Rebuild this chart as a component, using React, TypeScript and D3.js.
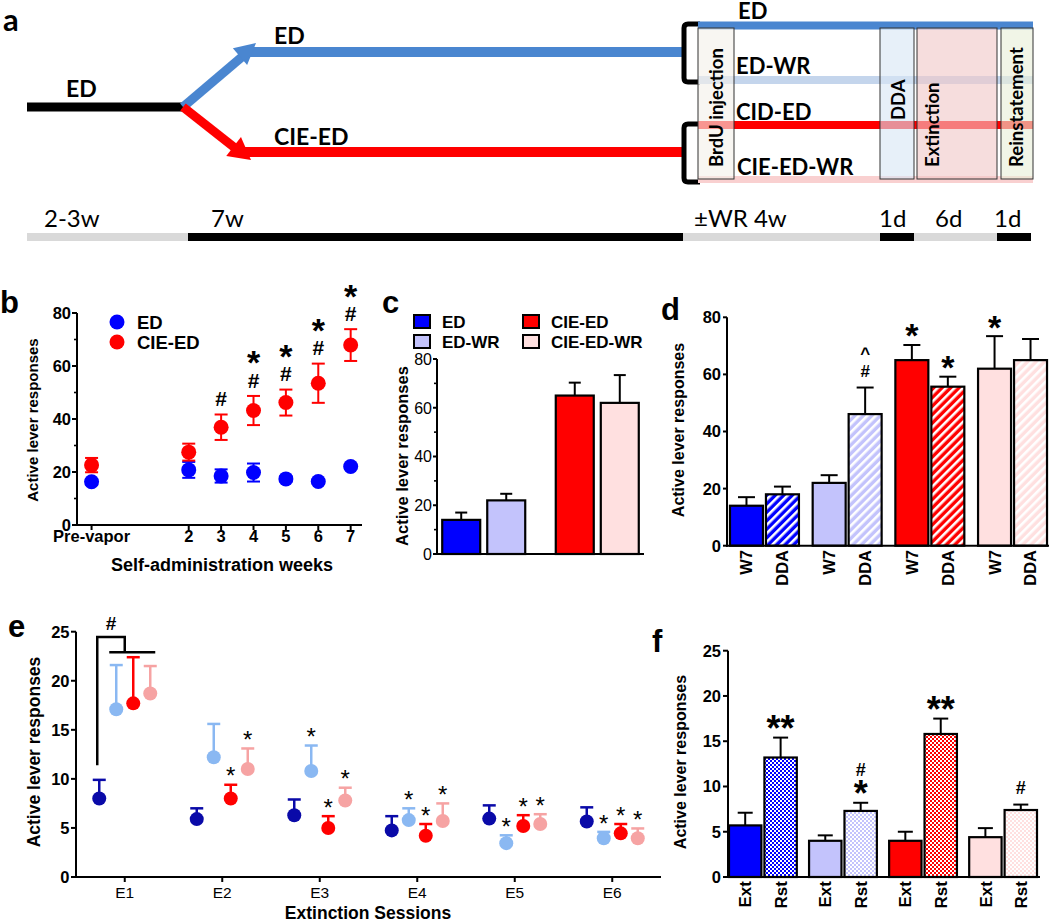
import React from "react";
import * as d3 from "d3";

const AR = "'Liberation Sans', Arial, Helvetica, sans-serif";
const CA = "Lato, 'Open Sans', sans-serif";

// ---------- panel b : weekly self-administration ----------
const weekLabels = ["Pre-vapor", "2", "3", "4", "5", "6", "7"];
const weekNumbers = [-1, 2, 3, 4, 5, 6, 7];
const edWeekly = [16.3, 20.8, 18.5, 19.8, 17.4, 16.4, 22.1];
const edWeeklySem = [1.0, 3.0, 2.5, 3.4, 1.0, 0.8, 1.0];
const cieWeekly = [22.6, 27.5, 36.9, 43.2, 46.2, 53.5, 67.9];
const cieWeeklySem = [2.7, 3.2, 4.8, 5.5, 4.9, 7.4, 6.0];
const cieWeeklyMarks = [[], [], ["#"], ["#", "*"], ["#", "*"], ["#", "*"], ["#", "*"]];

// ---------- groups ----------
const groups = ["ED", "ED-WR", "CIE-ED", "CIE-ED-WR"];
const groupFills = ["#0000ff", "#c3c3fc", "#ff0000", "#ffe0e0"];

// ---------- panel c / d ----------
const ddaPhases = ["W7", "DDA"];
const w7Values = [14, 22, 65, 62];
const w7Sem = [3, 2.7, 5.3, 11.4];
const w7Marks = [[], [], ["*"], ["*"]];
const ddaValues = [18, 46.1, 55.7, 65];
const ddaSem = [2.7, 9.3, 3.5, 7.4];
const ddaMarks = [[], ["#", "^"], ["*"], []];

// ---------- panel e : extinction ----------
const sessions = ["E1", "E2", "E3", "E4", "E5", "E6"];
const eColors = ["#0a0aa8", "#8ab8f2", "#ff0000", "#f6a3a3"];
const extED = [8.0, 5.9, 6.3, 4.75, 5.95, 5.65];
const extEDSem = [1.9, 1.1, 1.6, 1.45, 1.35, 1.45];
const extEDWR = [17.1, 12.2, 10.8, 5.8, 3.45, 3.95];
const extEDWRSem = [4.5, 3.4, 2.6, 1.2, 0.8, 0.65];
const extCIE = [17.7, 8.0, 5.0, 4.2, 5.2, 4.45];
const extCIESem = [4.7, 1.4, 1.2, 1.2, 1.1, 0.95];
const extCIEWR = [18.7, 11.0, 7.8, 5.7, 5.4, 3.95];
const extCIEWRSem = [2.8, 2.1, 1.3, 1.8, 1.0, 1.0];
const extEDStars = [false, false, false, false, false, false];
const extEDWRStars = [false, false, true, true, true, true];
const extCIEStars = [false, true, true, true, true, true];
const extCIEWRStars = [false, true, true, true, true, true];

// ---------- panel f : reinstatement ----------
const testPhases = ["Ext", "Rst"];
const extFinal = [5.7, 4.0, 4.0, 4.4];
const extFinalSem = [1.4, 0.6, 1.0, 1.0];
const reinst = [13.2, 7.3, 15.8, 7.4];
const reinstSem = [2.2, 0.9, 1.7, 0.6];
const extFinalMarks = [[], [], [], []];
const reinstMarks = [["**"], ["*", "#"], ["**"], ["#"]];

function symOffset(s: string) {
  if (s.startsWith("*")) return 0.57;
  if (s === "^") return 0.55;
  return 0.36;
}

function Stack({ x, capY, syms, first, gap, starSize, hashSize, weight = "bold" }: any) {
  let c = capY - first;
  return (
    <g>
      {syms.map((s: string, i: number) => {
        const fs = s.startsWith("*") ? starSize : hashSize;
        const el = (
          <text key={i} x={x} y={c + symOffset(s) * fs} textAnchor="middle" fontFamily={AR}
            fontWeight={weight} fontSize={fs}>{s}</text>
        );
        c -= gap;
        return el;
      })}
    </g>
  );
}

function YAxis({ y, x, ticks, minor = [], fontSize, weight = "bold", labelEnd, tickLen = 5 }: any) {
  const [y0, y1] = y.range();
  return (
    <g>
      <line x1={x} x2={x} y1={y0 + 1} y2={y1} stroke="#000" strokeWidth={2} />
      {ticks.map((t: number) => (
        <g key={t}>
          <line x1={x - tickLen} x2={x} y1={y(t)} y2={y(t)} stroke="#000" strokeWidth={2} />
          <text x={labelEnd} y={y(t)} dy="0.36em" textAnchor="end" fontFamily={AR} fontSize={fontSize}
            fontWeight={weight}>{t}</text>
        </g>
      ))}
      {minor.map((t: number) => (
        <line key={"m" + t} x1={x - 3} x2={x} y1={y(t)} y2={y(t)} stroke="#000" strokeWidth={1.6} />
      ))}
    </g>
  );
}

function RotLabel({ x, y, text, size, weight = "bold" }: any) {
  return (
    <text transform={`translate(${x},${y}) rotate(-90)`} textAnchor="middle" dy="0.36em"
      fontFamily={AR} fontWeight={weight} fontSize={size}>{text}</text>
  );
}

function PanelLetter({ x, y, t }: any) {
  return <text x={x} y={y} fontFamily={AR} fontWeight="bold" fontSize={31}>{t}</text>;
}

function Defs() {
  return (
    <defs>
      {groupFills.map((c, i) => (
        <pattern key={"h" + i} id={"hatch" + i} patternUnits="userSpaceOnUse" width={6} height={6}
          patternTransform="rotate(45)">
          <rect width={6} height={6} fill={c} />
          <rect width={2.6} height={6} fill="#fff" />
        </pattern>
      ))}
      {groupFills.map((c, i) => (
        <pattern key={"c" + i} id={"check" + i} patternUnits="userSpaceOnUse" width={4} height={4}>
          <rect width={4} height={4} fill={c} />
          <rect width={2} height={2} fill="#fff" />
          <rect x={2} y={2} width={2} height={2} fill="#fff" />
        </pattern>
      ))}
    </defs>
  );
}

// ---------------- panel a ----------------
function PanelA() {
  const blue = "#4a86d0";
  const red = "#ff0000";
  const arrow = (tx: number, ty: number, dx: number, dy: number, len: number, hw: number) => {
    const n = Math.hypot(dx, dy);
    const ux = dx / n, uy = dy / n;
    const bx = tx - ux * len, by = ty - uy * len;
    const px = -uy, py = ux;
    return `${tx},${ty} ${bx + px * hw},${by + py * hw} ${bx - px * hw},${by - py * hw}`;
  };
  const boxes = [
    { x0: 698, x1: 734, fill: "#f3f1ea", label: "BrdU injection", lx: 716, ly: 167 },
    { x0: 880, x1: 914, fill: "#d9e6f6", label: "DDA", lx: 898, ly: 120 },
    { x0: 917, x1: 997, fill: "#f0c8c8", label: "Extinction", lx: 932, ly: 167 },
    { x0: 1001, x1: 1033, fill: "#e8efd8", label: "Reinstatement", lx: 1016, ly: 167 },
  ];
  const tl = [
    { x0: 27, x1: 188, c: "#d9d9d9" },
    { x0: 188, x1: 683, c: "#000" },
    { x0: 683, x1: 880, c: "#d9d9d9" },
    { x0: 880, x1: 914, c: "#000" },
    { x0: 914, x1: 997, c: "#d9d9d9" },
    { x0: 997, x1: 1031, c: "#000" },
  ];
  const tlLabels = [
    { x: 44, t: "2-3w" }, { x: 211, t: "7w" }, { x: 694, t: "±WR 4w" },
    { x: 879, t: "1d" }, { x: 935, t: "6d" }, { x: 994, t: "1d" },
  ];
  return (
    <g>
      <text x={3} y={31} fontFamily={CA} fontWeight="bold" fontSize={31}>a</text>
      <line x1={27} x2={185} y1={107} y2={107} stroke="#000" strokeWidth={9} />
      <text x={66} y={97} fontFamily={CA} fontWeight="bold" fontSize={23}>ED</text>
      <line x1={183} y1={107} x2={243} y2={56} stroke={blue} strokeWidth={9} />
      <line x1={244} x2={682} y1={52} y2={52} stroke={blue} strokeWidth={10} />
      <polygon points={arrow(256, 43, 67, -57, 21, 11)} fill={blue} />
      <line x1={183} y1={107} x2={235} y2={148} stroke={red} strokeWidth={9} />
      <line x1={236} x2={682} y1={152} y2={152} stroke={red} strokeWidth={10} />
      <polygon points={arrow(251, 160, 58, 45, 22, 12)} fill={red} />
      <text x={274} y={44} fontFamily={CA} fontWeight="bold" fontSize={23}>ED</text>
      <text x={274} y={145} fontFamily={CA} fontWeight="bold" fontSize={23}>CIE-ED</text>
      <path d="M700,24 H688 Q684,24 684,28 V78 Q684,82 688,82 H700" fill="none" stroke="#000" strokeWidth={5} />
      <path d="M700,124 H688 Q684,124 684,128 V178 Q684,182 688,182 H700" fill="none" stroke="#000" strokeWidth={5} />
      <line x1={698} x2={1033} y1={25.5} y2={25.5} stroke={blue} strokeWidth={8} />
      <line x1={698} x2={1033} y1={80} y2={80} stroke="#c4d5ec" strokeWidth={8} />
      <line x1={698} x2={1033} y1={125} y2={125} stroke={red} strokeWidth={8} />
      <line x1={698} x2={1033} y1={179.5} y2={179.5} stroke="#f9d0d0" strokeWidth={7} />
      {boxes.map((b) => (
        <g key={b.label}>
          <rect x={b.x0} y={28} width={b.x1 - b.x0} height={151} fill={b.fill} fillOpacity={0.62}
            stroke="#333" strokeWidth={1} />
          <text transform={`translate(${b.lx},${b.ly}) rotate(-90)`} dy="0.36em" fontFamily={CA}
            fontWeight="bold" fontSize={18.5}>{b.label}</text>
        </g>
      ))}
      <text x={738} y={19} fontFamily={CA} fontWeight="bold" fontSize={22}>ED</text>
      <text x={736} y={74} fontFamily={CA} fontWeight="bold" fontSize={22}>ED-WR</text>
      <text x={736} y={120} fontFamily={CA} fontWeight="bold" fontSize={22}>CID-ED</text>
      <text x={737} y={175} fontFamily={CA} fontWeight="bold" fontSize={22}>CIE-ED-WR</text>
      {tl.map((s, i) => (
        <line key={i} x1={s.x0} x2={s.x1} y1={237} y2={237} stroke={s.c} strokeWidth={8} />
      ))}
      {tlLabels.map((l, i) => (
        <text key={i} x={l.x} y={227} fontFamily={CA} fontSize={24}>{l.t}</text>
      ))}
    </g>
  );
}

// ---------------- panel b ----------------
function PanelB() {
  const x = d3.scaleLinear().domain([-1.45, 7.35]).range([77, 362]);
  const y = d3.scaleLinear().domain([0, 80]).range([525, 313]);
  const series = [
    { name: "ED", vals: edWeekly, sem: edWeeklySem, color: "#0000ff", marks: null as any },
    { name: "CIE-ED", vals: cieWeekly, sem: cieWeeklySem, color: "#ff0000", marks: cieWeeklyMarks },
  ];
  return (
    <g>
      <PanelLetter x={0} y={313} t="b" />
      <YAxis y={y} x={77} ticks={[0, 20, 40, 60, 80]} minor={[10, 30, 50, 70]} fontSize={16.5} labelEnd={71} tickLen={5} />
      <line x1={76} x2={362} y1={525} y2={525} stroke="#000" strokeWidth={2} />
      {weekNumbers.map((w, i) => (
        <g key={w}>
          <line x1={x(w)} x2={x(w)} y1={525} y2={530} stroke="#000" strokeWidth={2} />
          <text x={x(w)} y={542} textAnchor="middle" fontFamily={AR} fontWeight="bold" fontSize={16.5}>{weekLabels[i]}</text>
        </g>
      ))}
      {series.map((s) => (
        <g key={s.name}>
          {s.vals.map((v, i) => {
            const cx = x(weekNumbers[i]);
            const lo = y(v - s.sem[i]), hi = y(v + s.sem[i]);
            return (
              <g key={i} stroke={s.color} strokeWidth={2}>
                <line x1={cx} x2={cx} y1={lo} y2={hi} />
                <line x1={cx - 6.5} x2={cx + 6.5} y1={lo} y2={lo} />
                <line x1={cx - 6.5} x2={cx + 6.5} y1={hi} y2={hi} />
              </g>
            );
          })}
          {s.vals.map((v, i) => (
            <circle key={"c" + i} cx={x(weekNumbers[i])} cy={y(v)} r={7.5} fill={s.color} />
          ))}
          {s.marks && s.vals.map((v, i) => (
            <Stack key={"s" + i} x={x(weekNumbers[i])} capY={y(v + s.sem[i])} syms={s.marks[i]}
              first={16} gap={25} starSize={34} hashSize={21} />
          ))}
        </g>
      ))}
      <circle cx={117} cy={322} r={7.5} fill="#0000ff" />
      <text x={137} y={322} dy="0.36em" fontFamily={AR} fontWeight="bold" fontSize={18.5}>ED</text>
      <circle cx={117} cy={342} r={7.5} fill="#ff0000" />
      <text x={137} y={342} dy="0.36em" fontFamily={AR} fontWeight="bold" fontSize={18.5}>CIE-ED</text>
      <RotLabel x={33} y={420} text="Active lever responses" size={15} />
      <text x={222} y={571} textAnchor="middle" fontFamily={AR} fontWeight="bold" fontSize={18}>Self-administration weeks</text>
    </g>
  );
}

// ---------------- panel c ----------------
function PanelC() {
  const y = d3.scaleLinear().domain([0, 80]).range([554, 359]);
  const outer = d3.scaleBand<number>().domain([0, 1]).range([437, 644]).paddingInner(0.269).paddingOuter(0.046);
  const inner = d3.scaleBand<number>().domain([0, 1]).range([0, outer.bandwidth()]).paddingInner(0.156);
  const xOf = (i: number) => (outer(Math.floor(i / 2)) as number) + (inner(i % 2) as number);
  const bw = inner.bandwidth();
  return (
    <g>
      <PanelLetter x={382} y={313} t="c" />
      {groups.map((g, i) => {
        const lx = i < 2 ? 414 : 523;
        const ly = i % 2 === 0 ? 315 : 335;
        return (
          <g key={g}>
            <rect x={lx} y={ly} width={16} height={13} fill={groupFills[i]} stroke="#000" strokeWidth={2} />
            <text x={lx + 28} y={ly + 6.5} dy="0.36em" fontFamily={AR} fontWeight="bold" fontSize={17}>{g}</text>
          </g>
        );
      })}
      {w7Values.map((v, i) => {
        const x0 = xOf(i), cx = x0 + bw / 2, top = y(v + w7Sem[i]);
        return (
          <g key={i}>
            <line x1={cx} x2={cx} y1={y(v)} y2={top} stroke="#000" strokeWidth={2} />
            <line x1={cx - 6} x2={cx + 6} y1={top} y2={top} stroke="#000" strokeWidth={2} />
            <rect x={x0} y={y(v)} width={bw} height={y(0) - y(v)} fill={groupFills[i]} stroke="#000" strokeWidth={2.2} />
          </g>
        );
      })}
      <YAxis y={y} x={437} ticks={[0, 20, 40, 60, 80]} minor={[10, 30, 50, 70]} fontSize={16} weight="normal" labelEnd={432} tickLen={4} />
      <line x1={436} x2={644} y1={554} y2={554} stroke="#000" strokeWidth={2} />
      <RotLabel x={402} y={456} text="Active lever responses" size={16.5} />
    </g>
  );
}

// ------------- paired bar panel (d, f) -------------
function PairedBars({ y, range, pIn, pOut, innerPad, phases, values, sems, marks, patternId, capW, labelTop, labelSize, starSize, hashSize, first, gap }: any) {
  const outer = d3.scaleBand<number>().domain([0, 1, 2, 3]).range(range).paddingInner(pIn).paddingOuter(pOut);
  const inner = d3.scaleBand<number>().domain([0, 1]).range([0, outer.bandwidth()]).paddingInner(innerPad);
  const bw = inner.bandwidth();
  return (
    <g>
      {groups.map((g, gi) =>
        phases.map((ph: string, pi: number) => {
          const v = values[pi][gi];
          const s = sems[pi][gi];
          const x0 = (outer(gi) as number) + (inner(pi) as number);
          const cx = x0 + bw / 2;
          const top = y(v + s);
          const fill = pi === 0 ? groupFills[gi] : `url(#${patternId}${gi})`;
          return (
            <g key={g + ph}>
              <line x1={cx} x2={cx} y1={y(v)} y2={top} stroke="#000" strokeWidth={2} />
              <line x1={cx - capW / 2} x2={cx + capW / 2} y1={top} y2={top} stroke="#000" strokeWidth={2} />
              <rect x={x0} y={y(v)} width={bw} height={y(0) - y(v)} fill={fill} stroke="#000" strokeWidth={2.2} />
              <Stack x={cx} capY={top} syms={marks[pi][gi]} first={first} gap={gap} starSize={starSize} hashSize={hashSize} />
              <text transform={`translate(${cx},${labelTop}) rotate(-90)`} textAnchor="end" dy="0.36em"
                fontFamily={AR} fontWeight="bold" fontSize={labelSize}>{ph}</text>
            </g>
          );
        })
      )}
    </g>
  );
}

function PanelD() {
  const y = d3.scaleLinear().domain([0, 80]).range([545.7, 317.3]);
  return (
    <g>
      <PanelLetter x={661} y={320} t="d" />
      <PairedBars y={y} range={[727, 1050]} pIn={0.166} pOut={0.036} innerPad={0.083} phases={ddaPhases}
        values={[w7Values, ddaValues]} sems={[w7Sem, ddaSem]} marks={[w7Marks, ddaMarks]} patternId="hatch"
        capW={17} labelTop={550} labelSize={16.5} starSize={34} hashSize={17} first={17} gap={21} />
      <YAxis y={y} x={727} ticks={[0, 20, 40, 60, 80]} fontSize={16.5} labelEnd={721} tickLen={4} />
      <line x1={726} x2={1049} y1={545.7} y2={545.7} stroke="#000" strokeWidth={2} />
      <RotLabel x={678} y={430} text="Active lever responses" size={16} />
    </g>
  );
}

function PanelF() {
  const y = d3.scaleLinear().domain([0, 25]).range([877, 650.7]);
  return (
    <g>
      <PanelLetter x={652} y={652} t="f" />
      <PairedBars y={y} range={[728, 1038]} pIn={0.153} pOut={0.0125} innerPad={0.085} phases={testPhases}
        values={[extFinal, reinst]} sems={[extFinalSem, reinstSem]} marks={[extFinalMarks, reinstMarks]} patternId="check"
        capW={15} labelTop={881} labelSize={17} starSize={36} hashSize={18} first={17} gap={16} />
      <YAxis y={y} x={728} ticks={[0, 5, 10, 15, 20, 25]} fontSize={16.5} labelEnd={721} tickLen={5} />
      <line x1={727} x2={1040} y1={877} y2={877} stroke="#000" strokeWidth={2} />
      <RotLabel x={680} y={762} text="Active lever responses" size={16} />
    </g>
  );
}

// ---------------- panel e ----------------
function PanelE() {
  const y = d3.scaleLinear().domain([0, 25]).range([877, 631.7]);
  const x = d3.scaleBand<string>().domain(sessions).range([76, 661]);
  const off = d3.scalePoint<number>().domain([0, 1, 2, 3]).range([-25.5, 25.5]);
  const series = [
    { m: extED, s: extEDSem, st: extEDStars },
    { m: extEDWR, s: extEDWRSem, st: extEDWRStars },
    { m: extCIE, s: extCIESem, st: extCIEStars },
    { m: extCIEWR, s: extCIEWRSem, st: extCIEWRStars },
  ];
  const center = (s: string) => (x(s) as number) + x.bandwidth() / 2;
  const e1 = center("E1");
  const pxOf = (gi: number, si: number) => center(sessions[si]) + (off(gi) as number);
  return (
    <g>
      <PanelLetter x={8} y={637} t="e" />
      {series.map((ser, gi) => (
        <g key={gi}>
          {ser.m.map((v, si) => {
            const cx = pxOf(gi, si);
            const top = y(v + ser.s[si]);
            return (
              <g key={si}>
                <line x1={cx} x2={cx} y1={y(v)} y2={top} stroke={eColors[gi]} strokeWidth={2.5} />
                <line x1={cx - 6.5} x2={cx + 6.5} y1={top} y2={top} stroke={eColors[gi]} strokeWidth={2.5} />
                <circle cx={cx} cy={y(v)} r={7} fill={eColors[gi]} />
                {ser.st[si] && (
                  <text x={cx} y={top - 14 + 0.57 * 24} textAnchor="middle" fontFamily={AR} fontSize={24}>*</text>
                )}
              </g>
            );
          })}
        </g>
      ))}
      <path d={`M${pxOf(0, 0) - 2},${y(11.4)} V${y(24.45)} H${e1} V${y(22.9)}`} fill="none" stroke="#000" strokeWidth={2.5} />
      <line x1={pxOf(1, 0) - 7} x2={pxOf(3, 0) + 5} y1={y(22.9)} y2={y(22.9)} stroke="#000" strokeWidth={2.5} />
      <text x={111} y={623 + 0.36 * 19} textAnchor="middle" fontFamily={AR} fontWeight="bold" fontSize={19}>#</text>
      <YAxis y={y} x={76} ticks={[0, 5, 10, 15, 20, 25]} fontSize={16.5} labelEnd={69.5} tickLen={5} />
      <line x1={75} x2={661} y1={877} y2={877} stroke="#000" strokeWidth={2} />
      {sessions.map((s) => (
        <g key={s}>
          <line x1={center(s)} x2={center(s)} y1={877} y2={882} stroke="#000" strokeWidth={2} />
          <text x={center(s)} y={898} textAnchor="middle" fontFamily={AR} fontSize={15.5}>{s}</text>
        </g>
      ))}
      <RotLabel x={34} y={752} text="Active lever responses" size={17.5} />
      <text x={368} y={919} textAnchor="middle" fontFamily={AR} fontWeight="bold" fontSize={17.5}>Extinction Sessions</text>
    </g>
  );
}

export default function App() {
  return (
    <svg width={1050} height={923} viewBox="0 0 1050 923"
      style={{ position: "absolute", left: 0, top: 0, background: "#fff" }}>
      <rect width={1050} height={923} fill="#fff" />
      <Defs />
      <PanelA />
      <PanelB />
      <PanelC />
      <PanelD />
      <PanelE />
      <PanelF />
    </svg>
  );
}
